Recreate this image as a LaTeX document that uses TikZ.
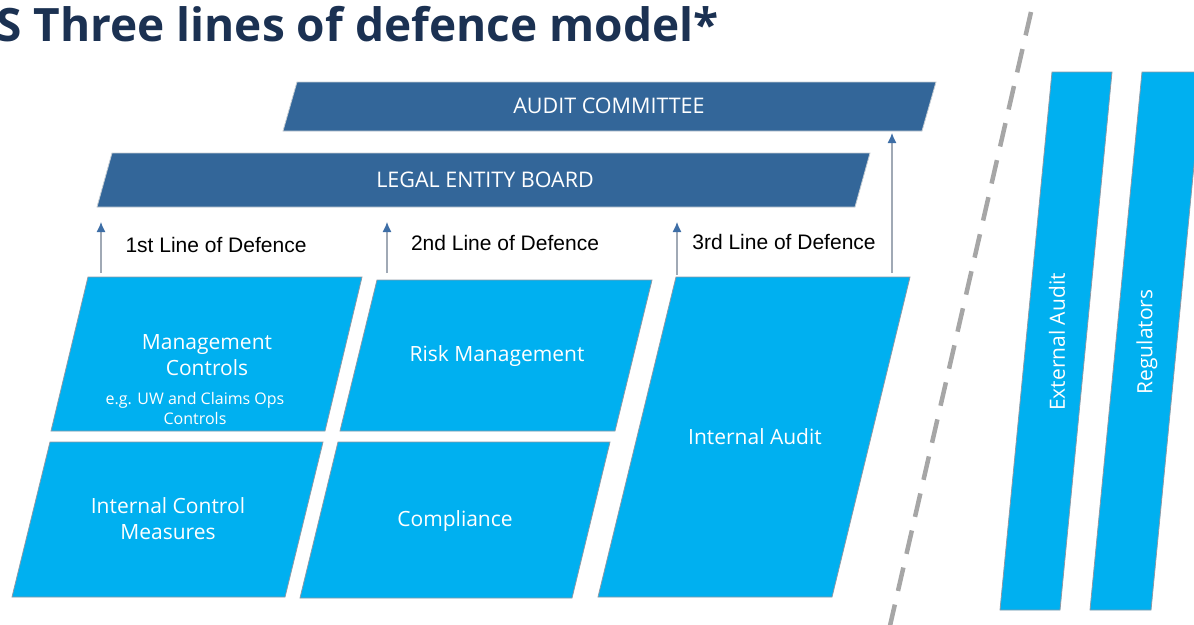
\documentclass[tikz,border=0pt]{standalone}
\usepackage{fontspec}
\setmainfont{Open Sans}
\newfontfamily\arialfont{Liberation Sans}
\usetikzlibrary{arrows.meta,positioning}

\definecolor{skyblue}{HTML}{00B0F0}
\definecolor{boardblue}{HTML}{336699}
\definecolor{titlenavy}{HTML}{1B3152}
\definecolor{arrowgray}{HTML}{A0A9B5}
\definecolor{arrowhead}{HTML}{3D6EA6}
\definecolor{edgegray}{HTML}{8C99A6}
\definecolor{dashgray}{HTML}{A6A6A6}

% slanted block: [style]{left x}{top y}{right x}{bottom y}{slant}
\newcommand{\slab}[6][block]{\path[#1] (#2,#3) -- (#4,#3) -- (#4-#6,#5) -- (#2-#6,#5) -- cycle;}

\begin{document}
\begin{tikzpicture}[x=1pt,y=-1pt,>={Latex[length=10pt,width=9pt,color=arrowhead]},
    block/.style={fill=skyblue,draw=edgegray,line width=0.8pt},
    band/.style={fill=boardblue,draw=edgegray!50,line width=0.8pt},
    blocktext/.style={text=white,align=center,font=\fontsize{21}{26}\selectfont},
    bandtext/.style={text=white,font=\fontsize{21.5}{26}\selectfont},
    smalltext/.style={text=white,align=center,font=\fontsize{16}{20}\selectfont},
    defence/.style={font=\arialfont\fontsize{21}{25}\selectfont},
    uparrow/.style={->,draw=arrowgray,line width=1.2pt}]

        \useasboundingbox (0,0) rectangle (1194,624);

        \node[anchor=base west,text=titlenavy,font=\bfseries\fontsize{46}{50}\selectfont,inner sep=0pt] (title) at (-4,41) {S Three lines of defence model*};

        % boards
        \slab[band]{297}{82}{936}{131}{14}
        \slab[band]{112}{153}{870}{207}{15}
        \node[bandtext] (committee) at (609,106) {AUDIT COMMITTEE};
        \node[bandtext] (board) at (485,180) {LEGAL ENTITY BOARD};
        \coordinate (committee base) at (609,133);
        \coordinate (board base) at (485,222);

        % lines of defence
        \slab{88}{277}{362}{431}{37}
        \slab{50}{442}{323}{597}{38}
        \slab{377}{280}{652}{431}{37}
        \slab{338}{442}{610}{598}{38}
        \slab{676}{277}{910}{597}{78}

        \node[blocktext] (mgmt) at (207,355) {Management\\Controls};
        \node[smalltext] (mgmt note) at (195,408) {e.g. UW and Claims Ops\\Controls};
        \node[blocktext] (icm) at (168,519) {Internal Control\\Measures};
        \node[blocktext] (risk) at (497,356) {Risk Management};
        \node[blocktext] (compliance) at (455,521) {Compliance};
        \node[blocktext] (internal) at (755,437) {Internal Audit};

        \node[defence] (first) at (216,245) {1st Line of Defence};
        \node[defence] (second) at (505,243) {2nd Line of Defence};
        \node[defence] (third) at (784,242) {3rd Line of Defence};

        \coordinate (a1) at (101,273);
        \coordinate (a2) at (387,273);
        \coordinate (a3) at (677,275);
        \coordinate (a4) at (892,273);

        \path (a1) edge[uparrow] (a1 |- board base)
              (a2) edge[uparrow] (a2 |- board base)
              (a3) edge[uparrow] (a3 |- board base)
              (a4) edge[uparrow] (a4 |- committee base);

        % divider
        \draw[dashgray,line width=4.5pt,dash pattern=on 24pt off 14pt] (1031,12) -- (889,630);

        % outside bodies
        \slab{1052}{72}{1112}{610}{52}
        \slab{1142}{72}{1203}{610}{52}
        \node[blocktext,rotate=90] (external) at (1057,342) {External Audit};
        \node[blocktext,rotate=90] (regulators) at (1147,342) {Regulators};

\end{tikzpicture}
\end{document}
